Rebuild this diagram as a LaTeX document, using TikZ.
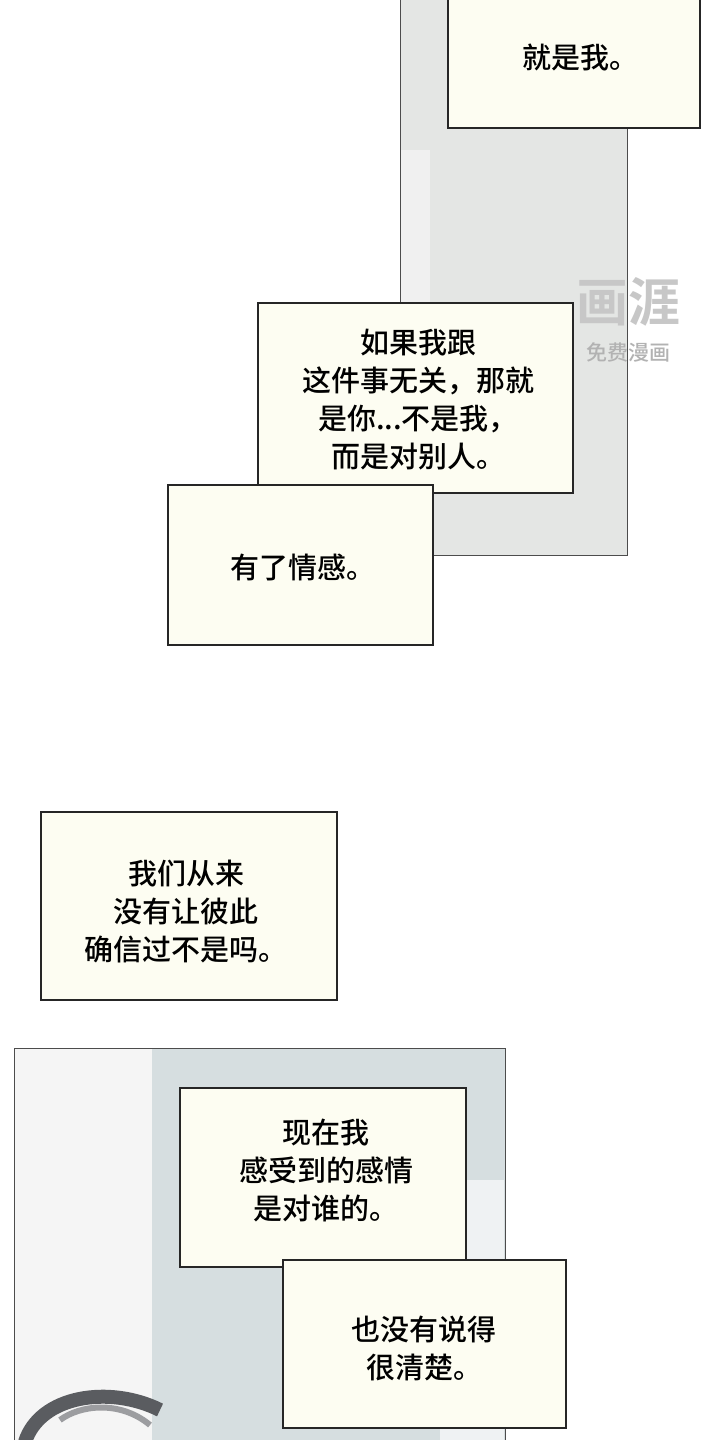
\documentclass[tikz,border=0pt]{standalone}
\usepackage{fontspec}
\newfontfamily\cjk{Noto Sans CJK SC Medium}
\newfontfamily\cjkb{Noto Sans CJK SC Bold}
\definecolor{cream}{HTML}{FDFDF2}
\definecolor{panelgray}{HTML}{E4E6E4}
\definecolor{panelblue}{HTML}{D6DEE0}
\definecolor{hair}{HTML}{5A5C60}
\tikzset{
  caption/.style={draw=black!85, line width=1.3pt, fill=cream},
  words/.style={font=\cjk\fontsize{29}{38}\selectfont, align=center, text=black},
}
\begin{document}
\begin{tikzpicture}[x=1pt,y=-1pt]
    \useasboundingbox [fill=white] (0,0) rectangle (720,1440);

    % top panel
    \draw [fill=panelgray, draw=black!70, line width=1pt] (400,-2) rectangle (627,555);
    \fill [black!6] (401,150) rectangle (430,554);

    % watermark
    \node (mark) [font=\cjkb\fontsize{52}{52}\selectfont, text=black!22] at (628,302) {画涯};
    \node (markb) [font=\cjk\fontsize{21}{21}\selectfont, text=black!30] at (628,352) {免费漫画};

    % captions, top
    \draw [caption] (448,-2) rectangle (700,128);
    \node (t1) [words] at (580,58) {就是我。};
    \draw [caption] (258,303) rectangle (573,493);
    \node (t2) [words] at (418,400) {如果我跟\\这件事无关，那就\\是你...不是我，\\而是对别人。};
    \draw [caption] (168,485) rectangle (433,645);
    \node (t3) [words] at (303,567) {有了情感。};

    % caption, middle
    \draw [caption] (41,812) rectangle (337,1000);
    \node (t4) [words] at (186,912) {我们从来\\没有让彼此\\确信过不是吗。};

    % bottom panel
    \draw [fill=panelblue, draw=black!70, line width=1pt] (14,1048) rectangle (505,1442);
    \fill [black!4] (15,1049) rectangle (152,1440);
    \fill [white!60!panelblue] (440,1180) rectangle (504,1440);
    \draw [hair, line width=14pt] (25,1442) .. controls (40,1395) and (110,1385) .. (160,1410);
    \draw [hair!60, line width=6pt] (60,1420) .. controls (80,1405) and (120,1400) .. (150,1425);

    % captions, bottom
    \draw [caption] (180,1088) rectangle (466,1267);
    \node (t5) [words] at (326,1170) {现在我\\感受到的感情\\是对谁的。};
    \draw [caption] (283,1260) rectangle (566,1428);
    \node (t6) [words] at (424,1348) {也没有说得\\很清楚。};
\end{tikzpicture}
\end{document}
